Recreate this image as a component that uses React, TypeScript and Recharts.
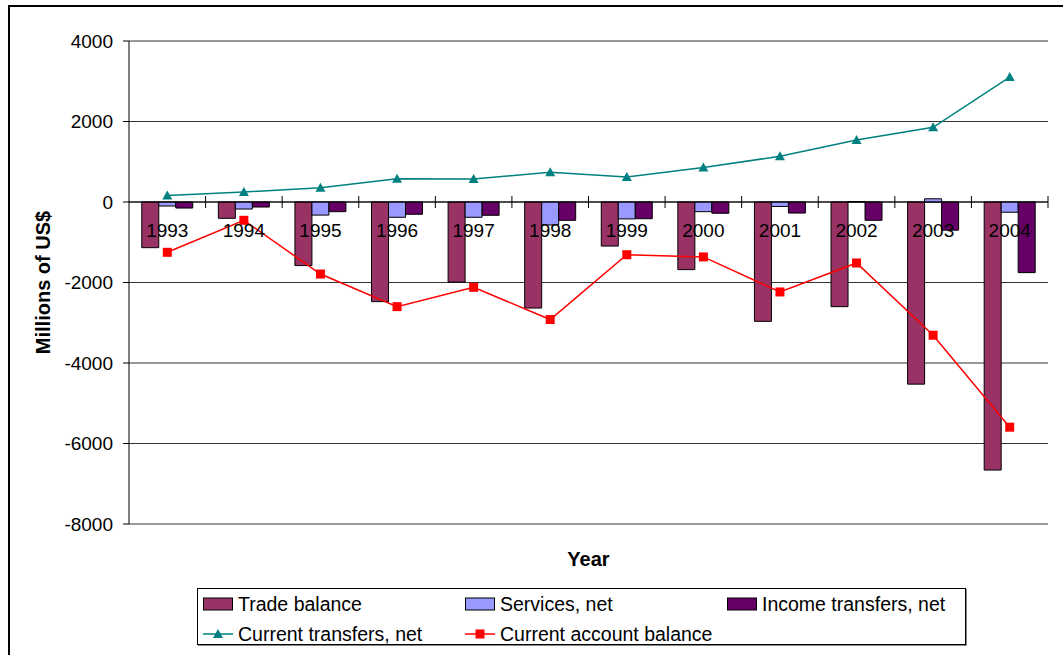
import React from "react"
import { Bar, CartesianGrid, ComposedChart, LabelList, Legend, Line, ReferenceLine, XAxis, YAxis } from "recharts"

const years = ["1993", "1994", "1995", "1996", "1997", "1998", "1999", "2000", "2001", "2002", "2003", "2004"]
const tradeBalance = [-1135, -405, -1580, -2475, -1990, -2635, -1095, -1680, -2965, -2600, -4525, -6660]
const servicesNet = [-100, -175, -325, -380, -380, -570, -420, -240, -110, 10, 80, -255]
const incomeTransfersNet = [-150, -125, -240, -305, -330, -455, -415, -280, -275, -455, -700, -1755]
const currentTransfersNet = [160, 250, 355, 580, 570, 740, 620, 860, 1135, 1540, 1855, 3105]
const currentAccountBalance = [-1250, -455, -1790, -2600, -2120, -2920, -1310, -1365, -2235, -1515, -3310, -5595]
const yTicks = [-8000, -6000, -4000, -2000, 0, 2000, 4000]

const data = years.map((year, i) => ({
  year,
  trade: tradeBalance[i],
  services: servicesNet[i],
  income: incomeTransfersNet[i],
  transfers: currentTransfersNet[i],
  account: currentAccountBalance[i],
}))

const FONT = '"Liberation Sans", Arial, sans-serif'
const CHART_W = 1053
const CHART_H = 648
const MARGIN = { top: 34, right: 15, bottom: 0, left: 0 }
const Y_AXIS_W = 119
const PLOT_W = CHART_W - MARGIN.right - Y_AXIS_W
const BAND = PLOT_W / years.length

const TRADE = "#993366"
const SERVICES = "#9999FF"
const INCOME = "#660066"
const TRANSFERS = "#008080"
const ACCOUNT = "#FF0000"

function Triangle(props: any) {
  const { cx, cy } = props
  if (cx == null || cy == null) return null
  return <polygon points={`${cx},${cy - 5} ${cx - 5},${cy + 4} ${cx + 5},${cy + 4}`} fill={TRANSFERS} />
}

function Square(props: any) {
  const { cx, cy } = props
  if (cx == null || cy == null) return null
  return <rect x={cx - 4.5} y={cy - 4.5} width={9} height={9} fill={ACCOUNT} />
}

// year labels and cross tick marks sit on the zero line, like the Excel category axis
function YearLabel(props: any) {
  const { x, y, value } = props
  const tx = x + BAND / 2
  return (
    <g>
      <line x1={tx} x2={tx} y1={y - 6} y2={y + 6} stroke="#000" strokeWidth={1} />
      <text x={x} y={y + 28} textAnchor="middle" dominantBaseline="central" fontFamily={FONT} fontSize={19} fill="#000">
        {value}
      </text>
    </g>
  )
}

function YTitle(props: any) {
  const { viewBox } = props
  const x = viewBox.x + 33
  const y = viewBox.y + viewBox.height / 2
  return (
    <text x={x} y={y} transform={`rotate(-90 ${x} ${y})`} textAnchor="middle" dominantBaseline="central"
      fontFamily={FONT} fontSize={20} fontWeight="bold" fill="#000">
      Millions of US$
    </text>
  )
}

function XTitle(props: any) {
  const { viewBox } = props
  return (
    <text x={viewBox.x + viewBox.width / 2} y={viewBox.y + 35} textAnchor="middle" dominantBaseline="central"
      fontFamily={FONT} fontSize={20} fontWeight="bold" fill="#000">
      Year
    </text>
  )
}

const legendItems = [
  { name: "Trade balance", kind: "bar", color: TRADE },
  { name: "Services, net", kind: "bar", color: SERVICES },
  { name: "Income transfers, net", kind: "bar", color: INCOME },
  { name: "Current transfers, net", kind: "triangle", color: TRANSFERS },
  { name: "Current account balance", kind: "square", color: ACCOUNT },
]

function LegendMarker({ kind, color }: { kind: string; color: string }) {
  return (
    <svg width={30} height={14} style={{ display: "block" }}>
      {kind === "bar" && <rect x={0.5} y={1} width={29} height={12} fill={color} stroke="#000" />}
      {kind !== "bar" && <line x1={0} x2={30} y1={7} y2={7} stroke={color} strokeWidth={1.5} />}
      {kind === "triangle" && <polygon points="15,2 10,11 20,11" fill={color} />}
      {kind === "square" && <rect x={10.5} y={2.5} width={9} height={9} fill={color} />}
    </svg>
  )
}

function LegendBox() {
  return (
    <div style={{ position: "relative", width: 769, height: 57, border: "1px solid #000", boxShadow: "1px 1px 0 #888", background: "#fff", boxSizing: "border-box" }}>
      {legendItems.map((item, i) => (
        <div key={item.name} style={{ position: "absolute", left: 5 + (i % 3) * 262, top: i < 3 ? 5 : 35, height: 20, display: "flex", alignItems: "center", gap: 5, fontFamily: FONT, fontSize: 19.5, color: "#000", whiteSpace: "nowrap" }}>
          <LegendMarker kind={item.kind} color={item.color} />
          <span>{item.name}</span>
        </div>
      ))}
    </div>
  )
}

export default function App() {
  return (
    <div style={{ position: "absolute", left: 8, top: 5, width: 1053, height: 660, borderLeft: "2px solid #000", borderTop: "2px solid #000", background: "#fff" }}>
      <style>{"body{overflow:hidden}"}</style>
      <ComposedChart width={CHART_W} height={CHART_H} data={data} margin={MARGIN} barCategoryGap="16.67%" barGap={0}>
        <CartesianGrid vertical={false} stroke="#333" />
        <XAxis dataKey="year" height={131} tick={false} tickLine={false} axisLine={false} label={<XTitle />} />
        <YAxis
          width={Y_AXIS_W}
          domain={[-8000, 4000]}
          ticks={yTicks}
          interval={0}
          tickSize={6}
          tickMargin={10}
          axisLine={{ stroke: "#000" }}
          tickLine={{ stroke: "#000" }}
          tick={{ fontFamily: FONT, fontSize: 19, fill: "#000" }}
          label={<YTitle />}
        />
        <YAxis yAxisId="frame" orientation="right" width={0} domain={[-8000, 4000]} tick={false} tickLine={false} axisLine={{ stroke: "#888", strokeWidth: 2 }} />
        <Bar dataKey="trade" name="Trade balance" fill={TRADE} stroke="#000" isAnimationActive={false} />
        <Bar dataKey="services" name="Services, net" fill={SERVICES} stroke="#000" isAnimationActive={false} />
        <Bar dataKey="income" name="Income transfers, net" fill={INCOME} stroke="#000" isAnimationActive={false} />
        <ReferenceLine y={0} stroke="#000" />
        <Line dataKey={() => 0} stroke="none" dot={false} activeDot={false} legendType="none" isAnimationActive={false}>
          <LabelList dataKey="year" content={<YearLabel />} />
        </Line>
        <Line dataKey="transfers" name="Current transfers, net" stroke={TRANSFERS} strokeWidth={1.5} dot={<Triangle />} activeDot={false} isAnimationActive={false} />
        <Line dataKey="account" name="Current account balance" stroke={ACCOUNT} strokeWidth={1.5} dot={<Square />} activeDot={false} isAnimationActive={false} />
        <Legend layout="vertical" verticalAlign="middle" align="center" content={<LegendBox />} wrapperStyle={{ left: 187, top: 581, width: 769, height: 57 }} />
      </ComposedChart>
    </div>
  )
}
